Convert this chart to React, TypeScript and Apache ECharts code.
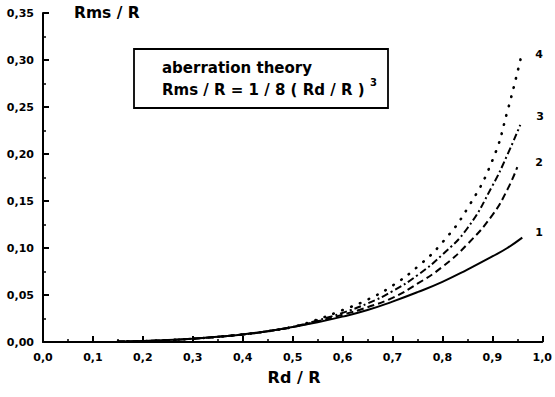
import React, { useEffect, useRef } from "react";
import * as echarts from "echarts";

const xs1 = [0.15, 0.2, 0.25, 0.3, 0.35, 0.4, 0.45, 0.5, 0.55, 0.6, 0.65, 0.7, 0.75, 0.8, 0.85, 0.9, 0.93, 0.96];
const curve1 = [0.0005, 0.001, 0.002, 0.0035, 0.0055, 0.008, 0.0115, 0.016, 0.021, 0.027, 0.034, 0.043, 0.053, 0.064, 0.077, 0.091, 0.1, 0.111];
const xs2 = [0.15, 0.2, 0.25, 0.3, 0.35, 0.4, 0.45, 0.5, 0.55, 0.6, 0.65, 0.7, 0.75, 0.8, 0.85, 0.9, 0.93, 0.95];
const curve2 = [0.0005, 0.001, 0.002, 0.0035, 0.0055, 0.008, 0.0115, 0.016, 0.022, 0.029, 0.037, 0.047, 0.062, 0.08, 0.104, 0.135, 0.162, 0.186];
const xs3 = [0.15, 0.2, 0.25, 0.3, 0.35, 0.4, 0.45, 0.5, 0.55, 0.6, 0.65, 0.7, 0.75, 0.8, 0.85, 0.9, 0.93, 0.956];
const curve3 = [0.0005, 0.001, 0.002, 0.0035, 0.0055, 0.008, 0.0115, 0.016, 0.023, 0.031, 0.041, 0.054, 0.071, 0.093, 0.121, 0.166, 0.199, 0.231];
const xs4 = [0.15, 0.2, 0.25, 0.3, 0.35, 0.4, 0.45, 0.5, 0.55, 0.6, 0.65, 0.7, 0.75, 0.8, 0.85, 0.9, 0.93, 0.96];
const curve4 = [0.0005, 0.001, 0.002, 0.0035, 0.0055, 0.008, 0.0115, 0.016, 0.024, 0.034, 0.045, 0.06, 0.08, 0.106, 0.142, 0.193, 0.245, 0.309];
const curveLabels = ["1", "2", "3", "4"];

const FONT = "'DejaVu Sans', sans-serif";

function zip(xs: number[], ys: number[]) {
  return xs.map((x, i) => [x, ys[i]]);
}

export default function App() {
  const ref = useRef<HTMLDivElement>(null);
  useEffect(() => {
    const chart = echarts.init(ref.current!, null, { renderer: "svg" });
    const dashes: any[] = ["solid", [7, 4], [7, 3, 2, 3], [0.5, 9]];
    const allX = [xs1, xs2, xs3, xs4];
    const allY = [curve1, curve2, curve3, curve4];
    const labelOffsets = [[5, -5], [10, -5], [8, -8], [5, 3]];
    chart.setOption({
      animation: false,
      backgroundColor: "#fff",
      grid: { left: 43, right: 9, top: 13, bottom: 55 },
      xAxis: {
        type: "value",
        min: 0,
        max: 1,
        interval: 0.1,
        name: "Rd / R",
        nameLocation: "middle",
        nameGap: 27,
        nameTextStyle: { fontFamily: FONT, fontWeight: "bold", fontSize: 16, color: "#000", padding: [0, 0, 0, 3] },
        axisLine: { lineStyle: { color: "#000", width: 2 } },
        axisTick: { inside: true, length: 6, lineStyle: { color: "#000", width: 2 } },
        minorTick: { show: true, splitNumber: 2, length: 3, lineStyle: { color: "#000", width: 1.5 } },
        splitLine: { show: false },
        axisLabel: {
          fontFamily: FONT, fontWeight: "bold", fontSize: 11, color: "#000", margin: 10,
          formatter: (v: number) => v.toFixed(1).replace(".", ","),
        },
      },
      yAxis: {
        type: "value",
        min: 0,
        max: 0.35,
        interval: 0.05,
        axisLine: { show: true, lineStyle: { color: "#000", width: 2 } },
        axisTick: { show: true, inside: true, length: 6, lineStyle: { color: "#000", width: 2 } },
        minorTick: { show: true, splitNumber: 2, length: 3, lineStyle: { color: "#000", width: 1.5 } },
        splitLine: { show: false },
        axisLabel: {
          fontFamily: FONT, fontWeight: "bold", fontSize: 11, color: "#000", margin: 9,
          formatter: (v: number) => v.toFixed(2).replace(".", ","),
        },
      },
      series: allX.map((xs, i) => ({
        type: "line",
        name: curveLabels[i],
        data: zip(xs, allY[i]),
        smooth: true,
        symbol: "none",
        lineStyle: { color: "#000", width: i === 3 ? 2.6 : 2, type: dashes[i], cap: i === 3 ? "round" : "butt" },
        endLabel: {
          show: true,
          formatter: curveLabels[i],
          fontFamily: FONT,
          fontWeight: "bold",
          fontSize: 11,
          color: "#000",
          offset: labelOffsets[i],
        },
      })),
      graphic: [
        {
          type: "text",
          x: 74,
          y: 13,
          style: { text: "Rms / R", fontFamily: FONT, fontWeight: "bold", fontSize: 15.5, fill: "#000", verticalAlign: "middle" },
        },
        {
          type: "rect",
          shape: { x: 134, y: 49, width: 254, height: 59 },
          style: { fill: "none", stroke: "#000", lineWidth: 1.8 },
        },
        {
          type: "text",
          x: 162,
          y: 68,
          style: { text: "aberration theory", fontFamily: FONT, fontWeight: "bold", fontSize: 15, fill: "#000", verticalAlign: "middle" },
        },
        {
          type: "text",
          x: 162,
          y: 90,
          style: { text: "Rms / R = 1 / 8 ( Rd / R )", fontFamily: FONT, fontWeight: "bold", fontSize: 15, fill: "#000", verticalAlign: "middle" },
        },
        {
          type: "text",
          x: 370,
          y: 82,
          style: { text: "3", fontFamily: FONT, fontWeight: "bold", fontSize: 10, fill: "#000", verticalAlign: "middle" },
        },
      ],
    });
    return () => chart.dispose();
  }, []);
  return <div ref={ref} style={{ width: 555, height: 397, position: "absolute", left: 0, top: 0 }} />;
}
